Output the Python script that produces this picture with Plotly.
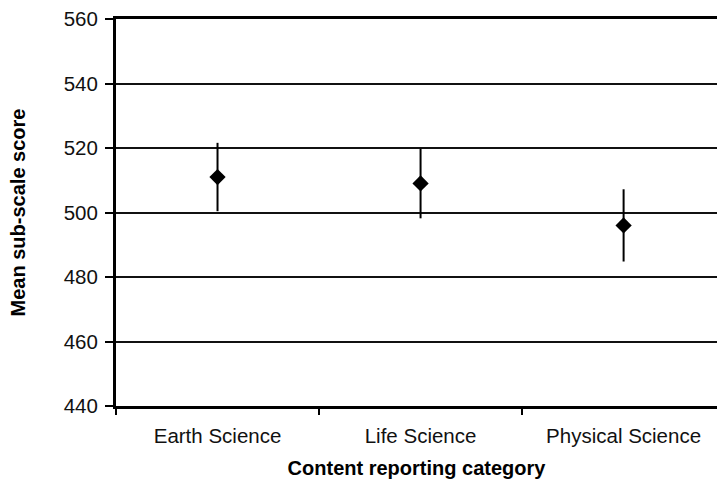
import plotly.graph_objects as go

categories = ["Earth Science", "Life Science", "Physical Science"]
means = [511, 509, 496]
err_plus = [10.6, 10.8, 11.2]
err_minus = [10.6, 10.8, 11.2]
y_ticks = [440, 460, 480, 500, 520, 540, 560]

fig = go.Figure()
fig.add_trace(go.Scatter(
    x=categories, y=means, mode="markers",
    marker=dict(symbol="diamond", size=12.5, color="black"),
    error_y=dict(type="data", symmetric=False, array=err_plus, arrayminus=err_minus,
                 color="black", thickness=2, width=0),
    showlegend=False,
))

font_family = "Liberation Sans, Arial, sans-serif"
fig.update_layout(
    width=717, height=488,
    margin=dict(l=116, r=0, t=19, b=82),
    paper_bgcolor="white", plot_bgcolor="white",
    font=dict(family=font_family, color="black"),
    xaxis=dict(
        type="category", range=[-0.5, 2.46], automargin=False,
        showline=True, linecolor="black", linewidth=3, mirror=True,
        ticks="outside", tickson="boundaries", ticklen=6, tickwidth=2, tickcolor="black",
        ticklabelstandoff=9,
        showgrid=False, tickfont=dict(size=20.5, color="#111"),
        title=dict(text="<b>Content reporting category</b>", font=dict(size=20), standoff=16),
    ),
    yaxis=dict(
        range=[440, 560], tickvals=y_ticks, automargin=False,
        showline=True, linecolor="black", linewidth=3,
        ticks="outside", ticklen=8, tickwidth=2, tickcolor="black",
        ticklabelstandoff=3,
        showgrid=True, gridcolor="#111", gridwidth=2,
        zeroline=False, tickfont=dict(size=20.5, color="#111"),
        title=dict(text="<b>Mean sub-scale score</b>", font=dict(size=20), standoff=33),
    ),
)
fig.write_html("out.html")
